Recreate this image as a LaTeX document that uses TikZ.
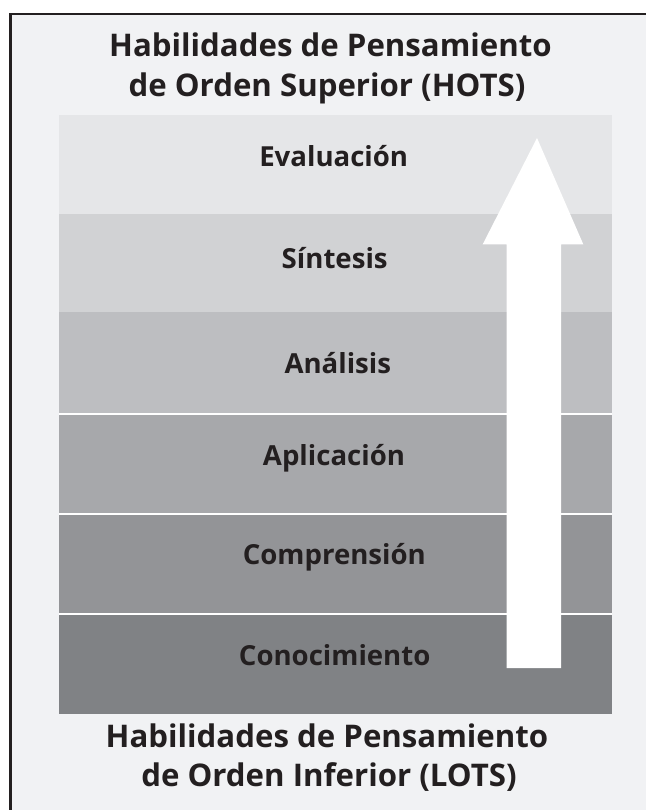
\documentclass[tikz,border=0pt]{standalone}
\usepackage{fontspec}
\setmainfont{Open Sans}
\definecolor{bg}{HTML}{F1F2F4}
\definecolor{ink}{HTML}{231F20}
\definecolor{bA}{HTML}{E5E6E8}
\definecolor{bB}{HTML}{D1D2D4}
\definecolor{bC}{HTML}{BDBEC1}
\definecolor{bD}{HTML}{A7A8AB}
\definecolor{bE}{HTML}{939497}
\definecolor{bF}{HTML}{808285}
\tikzset{
  lbl/.style={anchor=base, inner sep=0pt, text=ink, font=\bfseries\fontsize{27.6}{32}\selectfont},
  ttl/.style={anchor=base, inner sep=0pt, text=ink, font=\bfseries\fontsize{31.2}{38}\selectfont},
}
\begin{document}
\begin{tikzpicture}[x=1pt,y=-1pt]
\useasboundingbox (0,0) rectangle (646,810);
\fill[bg] (0,0) rectangle (646,810);
\fill[white] (0,0) rectangle (646,13);
\fill[white] (0,0) rectangle (9.2,810);
\draw[ink, line width=2.5pt] (10.5,810) -- (10.5,14) -- (646,14);
% bands
\fill[bA] (59,115) rectangle (612,214);
\fill[bB] (59,214) rectangle (612,312);
\fill[bC] (59,312) rectangle (612,414);
\fill[bD] (59,414) rectangle (612,514);
\fill[bE] (59,514) rectangle (612,614);
\fill[bF] (59,614) rectangle (612,714);
\draw[white, line width=1.2pt] (59,414) -- (612,414);
\draw[white, line width=1.2pt] (59,514) -- (612,514);
\draw[white, line width=1.2pt] (59,614) -- (612,614);
% arrow
\fill[white] (537,138) -- (583.3,244.3) -- (561,244.3) -- (561,668) -- (506.7,668) -- (506.7,244.3) -- (482.7,244.3) -- cycle;
% titles
\node[ttl] (t1) at (330.5,56.7) {Habilidades de Pensamiento};
\node[ttl] (t2) at (327,96.7) {de Orden Superior (HOTS)};
\node[ttl] (b1) at (327,747.3) {Habilidades de Pensamiento};
\node[ttl] (b2) at (329,786) {de Orden Inferior (LOTS)};
% labels
\node[lbl] (ev) at (333.7,167) {Evaluación};
\node[lbl] (si) at (334.7,268.3) {Síntesis};
\node[lbl] (an) at (337.8,373.3) {Análisis};
\node[lbl] (ap) at (334,465.7) {Aplicación};
\node[lbl] (co) at (334.3,564) {Comprensión};
\node[lbl] (cn) at (334.7,665) {Conocimiento};
\end{tikzpicture}
\end{document}
